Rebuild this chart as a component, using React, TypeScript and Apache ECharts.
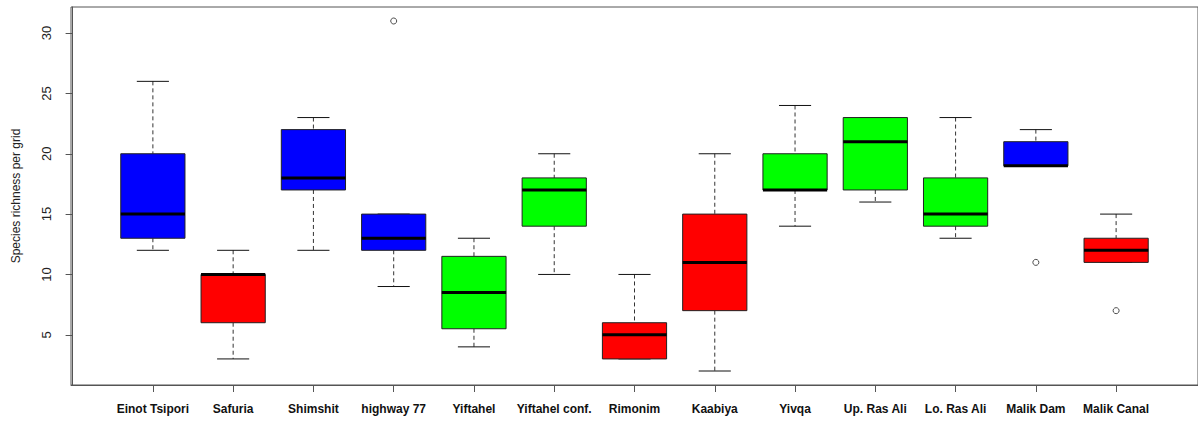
import React, { useEffect, useRef } from "react";
import * as echarts from "echarts";

const categories = [
  "Einot Tsipori", "Safuria", "Shimshit", "highway 77", "Yiftahel", "Yiftahel conf.",
  "Rimonim", "Kaabiya", "Yivqa", "Up. Ras Ali", "Lo. Ras Ali", "Malik Dam", "Malik Canal",
];
const lowerWhisker = [12, 3, 12, 9, 4, 10, 3, 2, 14, 16, 13, 19, 11];
const q1Vals = [13, 6, 17, 12, 5.5, 14, 3, 7, 17, 17, 14, 19, 11];
const medianVals = [15, 10, 18, 13, 8.5, 17, 5, 11, 17, 21, 15, 19, 12];
const q3Vals = [20, 10, 22, 15, 11.5, 18, 6, 15, 20, 23, 18, 21, 13];
const upperWhisker = [26, 12, 23, 15, 13, 20, 10, 20, 24, 23, 23, 22, 15];
const boxColors = [
  "#0000FF", "#FF0000", "#0000FF", "#0000FF", "#00FF00", "#00FF00",
  "#FF0000", "#FF0000", "#00FF00", "#00FF00", "#00FF00", "#0000FF", "#FF0000",
];
// [category index (1-based), value]
const outliers = [
  [4, 31],
  [12, 11],
  [13, 7],
];
const yTicks = [5, 10, 15, 20, 25, 30];
const yTitle = "Species richness per grid";

export default function App() {
  const ref = useRef<HTMLDivElement>(null);
  useEffect(() => {
    if (!ref.current) return;
    const chart = echarts.init(ref.current, null, { renderer: "svg" });
    const boxData = categories.map((_, i) => [
      i + 1, lowerWhisker[i], q1Vals[i], medianVals[i], q3Vals[i], upperWhisker[i],
    ]);
    const axisColor = "#555";
    chart.setOption({
      animation: false,
      grid: {
        left: 71, top: 7, right: -2, bottom: 36,
        show: true, borderColor: axisColor, borderWidth: 1, backgroundColor: "transparent",
      },
      xAxis: {
        type: "value",
        min: -0.02,
        max: 14.02,
        splitLine: { show: false },
        axisLine: { show: true, lineStyle: { color: axisColor } },
        axisTick: {
          show: true, inside: false, length: 7,
          customValues: categories.map((_, i) => i + 1),
          lineStyle: { color: axisColor },
        },
        axisLabel: {
          customValues: categories.map((_, i) => i + 1),
          formatter: (v: number) => categories[Math.round(v) - 1] ?? "",
          margin: 18,
          fontFamily: "Liberation Sans",
          fontWeight: "bold",
          fontSize: 12,
          color: "#111",
        },
      },
      yAxis: {
        type: "value",
        min: 0.84,
        max: 32.16,
        splitLine: { show: false },
        axisLine: { show: true, lineStyle: { color: axisColor } },
        axisTick: {
          show: true, length: 7, customValues: yTicks, lineStyle: { color: axisColor },
        },
        axisLabel: {
          customValues: yTicks,
          rotate: 90,
          margin: 18,
          fontFamily: "Liberation Sans",
          fontSize: 13,
          color: "#222",
        },
        name: yTitle,
        nameLocation: "middle",
        nameRotate: 90,
        nameGap: 49,
        nameTextStyle: { fontFamily: "Liberation Sans", fontSize: 12, color: "#222" },
      },
      series: [
        {
          type: "custom",
          data: boxData,
          encode: { x: 0, y: [1, 2, 3, 4, 5] },
          renderItem: (params: any, api: any) => {
            const x = api.value(0);
            const lo = api.value(1);
            const q1 = api.value(2);
            const med = api.value(3);
            const q3 = api.value(4);
            const hi = api.value(5);
            const color = boxColors[params.dataIndex];
            const halfBox = api.size([0.4, 0])[0];
            const halfCap = api.size([0.2, 0])[0];
            const pLo = api.coord([x, lo]);
            const pQ1 = api.coord([x, q1]);
            const pMed = api.coord([x, med]);
            const pQ3 = api.coord([x, q3]);
            const pHi = api.coord([x, hi]);
            const cx = pMed[0];
            const dash = { stroke: "#333", lineWidth: 1, lineDash: [4, 3] };
            const solid = { stroke: "#111", lineWidth: 1 };
            return {
              type: "group",
              children: [
                { type: "line", shape: { x1: cx, y1: pHi[1], x2: cx, y2: pQ3[1] }, style: dash },
                { type: "line", shape: { x1: cx, y1: pQ1[1], x2: cx, y2: pLo[1] }, style: dash },
                { type: "line", shape: { x1: cx - halfCap, y1: pHi[1], x2: cx + halfCap, y2: pHi[1] }, style: solid },
                { type: "line", shape: { x1: cx - halfCap, y1: pLo[1], x2: cx + halfCap, y2: pLo[1] }, style: solid },
                {
                  type: "rect",
                  shape: { x: cx - halfBox, y: pQ3[1], width: 2 * halfBox, height: pQ1[1] - pQ3[1] },
                  style: { fill: color, stroke: "#222", lineWidth: 1 },
                },
                {
                  type: "line",
                  shape: { x1: cx - halfBox, y1: pMed[1], x2: cx + halfBox, y2: pMed[1] },
                  style: { stroke: "#000", lineWidth: 3 },
                },
              ],
            };
          },
        },
        {
          type: "scatter",
          data: outliers,
          symbol: "circle",
          symbolSize: 6,
          itemStyle: { color: "#fff", borderColor: "#222", borderWidth: 1 },
        },
      ],
    });
    return () => chart.dispose();
  }, []);
  return (
    <div
      ref={ref}
      style={{ position: "absolute", left: 0, top: 0, width: 1198, height: 421, background: "#fff" }}
    />
  );
}
